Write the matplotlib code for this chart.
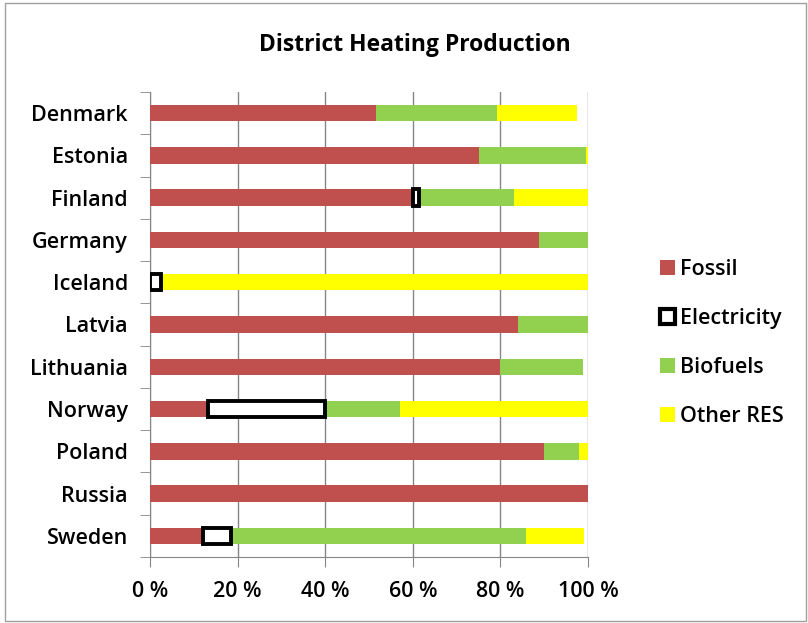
import numpy as np
import matplotlib
matplotlib.use("Agg")
import matplotlib.pyplot as plt
from matplotlib.patches import Rectangle, Patch

plt.rcParams['font.family'] = ['Open Sans', 'DejaVu Sans']

# data (percent of district heating production)
countries = ['Denmark', 'Estonia', 'Finland', 'Germany', 'Iceland', 'Latvia',
             'Lithuania', 'Norway', 'Poland', 'Russia', 'Sweden']
fossil = [51.6, 75.0, 60.1, 88.8, 0.0, 84.0, 79.8, 13.3, 90.0, 100.0, 12.2]
electricity = [0.0, 0.0, 1.4, 0.0, 2.5, 0.0, 0.0, 26.7, 0.0, 0.0, 6.2]
biofuels = [27.7, 24.5, 21.5, 11.2, 0.0, 16.0, 19.0, 17.0, 8.0, 0.0, 67.4]
other_res = [18.3, 0.8, 17.0, 0.0, 97.5, 0.0, 0.0, 43.0, 2.0, 0.0, 13.2]
xticks = [0, 20, 40, 60, 80, 100]

fs = 15.5
fig = plt.figure(figsize=(8.08, 6.23), dpi=100)
ax = fig.add_axes([150 / 808, 1 - 557 / 623, 438 / 808, 465 / 623])

y = np.arange(len(countries))
h = 0.39
left = np.zeros(len(countries))

ax.barh(y, fossil, height=h, left=left, color='#C0504D', zorder=3)
left += fossil
ax.barh(y, electricity, height=h, left=left, color='white',
        edgecolor=['black' if v > 0 else 'none' for v in electricity],
        linewidth=2.8, zorder=4)
left += electricity
ax.barh(y, biofuels, height=h, left=left, color='#92D050', zorder=3)
left += biofuels
ax.barh(y, other_res, height=h, left=left, color='#FFFF00', zorder=3)

ax.set_xlim(0, 100)
ax.set_ylim(len(countries) - 0.5, -0.5)
ax.set_xticks(xticks)
ax.set_xticklabels([f'{v} %' for v in xticks], fontsize=fs, fontweight='semibold')
ax.set_yticks(y)
ax.set_yticklabels(countries, fontsize=fs, fontweight='semibold')
ax.set_yticks(np.arange(len(countries) + 1) - 0.5, minor=True)
ax.tick_params(axis='y', which='major', length=0, pad=16)
ax.tick_params(axis='y', which='minor', length=7, color='#868686')
ax.tick_params(axis='x', length=7, color='#868686', pad=10)
ax.grid(axis='x', color='#868686', linewidth=1, zorder=0)
for s in ['top', 'right']:
    ax.spines[s].set_visible(False)
for s in ['left', 'bottom']:
    ax.spines[s].set_color('#868686')

handles = [Patch(facecolor='#C0504D', label='Fossil'),
           Patch(facecolor='white', edgecolor='black', linewidth=3, label='Electricity'),
           Patch(facecolor='#92D050', label='Biofuels'),
           Patch(facecolor='#FFFF00', label='Other RES')]
fig.legend(handles=handles, loc='center left', bbox_to_anchor=(660 / 808, 1 - 343 / 623),
           frameon=False, prop={'size': fs, 'weight': 'semibold'},
           handlelength=0.7, handleheight=0.7,
           handletextpad=0.25, labelspacing=1.3, borderaxespad=0, borderpad=0)

fig.text(415 / 808, 1 - 45 / 623, 'District Heating Production', ha='center', va='center',
         fontsize=16.5, fontweight='bold')

fig.patches.append(Rectangle((5 / 808, 2 / 623), 801 / 808, 618 / 623, transform=fig.transFigure,
                             fill=False, edgecolor='#A0A0A0', linewidth=1))

fig.savefig('out.png', dpi=100)
